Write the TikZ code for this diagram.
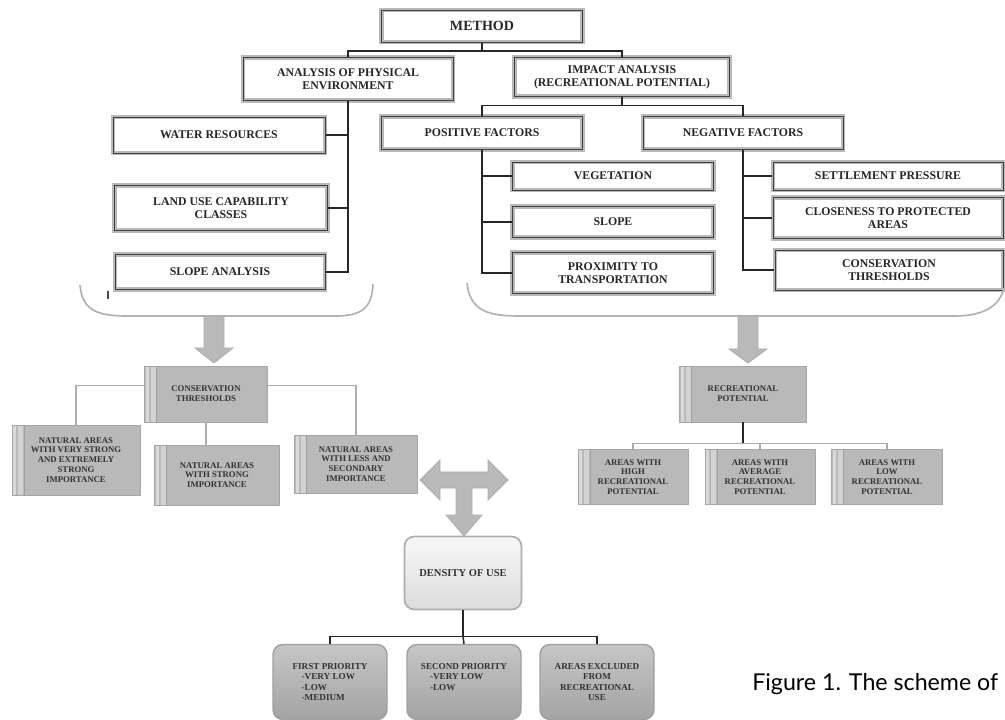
\documentclass[tikz,border=0pt]{standalone}
\usepackage{fontspec}
\setmainfont{Liberation Serif}
\newfontfamily\capfont{Lato}
\usepackage{tikz}

\newcommand{\pxu}{0.025cm}

\tikzset{
  topbox/.style={draw=gray!55, double=black!75, double distance=0.5pt, line width=1.3pt,
    fill=white, align=center, inner sep=1pt, text=black!85,
    font=\fontsize{8.4}{9.4}\selectfont\bfseries},
  greybox/.style={draw=gray!70, fill=gray!55, align=center, inner sep=1pt, text=black!80,
    font=\fontsize{6.2}{7}\selectfont\bfseries,
    path picture={
      \fill[gray!30] ([xshift=1pt]path picture bounding box.south west) rectangle ([xshift=3pt]path picture bounding box.north west);
      \fill[gray!35] ([xshift=4.5pt]path picture bounding box.south west) rectangle ([xshift=8pt]path picture bounding box.north west);
      \draw[gray!75, line width=0.5pt] ([xshift=8.5pt]path picture bounding box.south west) -- ([xshift=8.5pt]path picture bounding box.north west);
    }},
  densbox/.style={rounded corners=7pt, draw=gray!65, line width=1.2pt, top color=gray!6,
    bottom color=gray!28, align=center, text=black!80, font=\fontsize{7.5}{8.5}\selectfont\bfseries},
  prioritybox/.style={rounded corners=7pt, draw=gray!75, line width=1pt, top color=gray!45,
    bottom color=gray!72, inner sep=1pt, text=black!80,
    font=\fontsize{6.5}{7.4}\selectfont\bfseries},
  link/.style={draw=black!85, line width=1.1pt},
  greylink/.style={draw=gray!65, line width=1pt},
  fatarrow/.style={fill=gray!55, draw=gray!65, line width=0.6pt},
  bracket/.style={draw=gray!60, line width=1.2pt},
}

\begin{document}
\begin{tikzpicture}[x=\pxu, y=-\pxu]
    \useasboundingbox (0,0) rectangle (1005,720);

    % top level
    \node[topbox, minimum width=201*\pxu, minimum height=32*\pxu, font=\fontsize{10}{11}\selectfont\bfseries] (method) at (482,26) {METHOD};
    \node[topbox, minimum width=210*\pxu, minimum height=43*\pxu] (physical) at (348,79) {ANALYSIS OF PHYSICAL\\ENVIRONMENT};
    \node[topbox, minimum width=215*\pxu, minimum height=39*\pxu] (impact) at (622,77) {IMPACT ANALYSIS\\(RECREATIONAL POTENTIAL)};
    \draw[link] (method.south) -- ++(0,8) coordinate (mBar);
    \draw[link] (mBar) -| (physical.north);
    \draw[link] (mBar) -| (impact.north);

    % physical environment
    \node[topbox, minimum width=212*\pxu, minimum height=36*\pxu] (water) at (219,135) {WATER RESOURCES};
    \node[topbox, minimum width=213*\pxu, minimum height=45*\pxu] (landuse) at (221,208) {LAND USE CAPABILITY\\CLASSES};
    \node[topbox, minimum width=210*\pxu, minimum height=35*\pxu] (slopean) at (220,272) {SLOPE ANALYSIS};
    \draw[link] (physical.south) |- (water.east);
    \draw[link] (physical.south) |- (landuse.east);
    \draw[link] (physical.south) |- (slopean.east);

    % impact analysis
    \node[topbox, minimum width=201*\pxu, minimum height=33*\pxu] (positive) at (482,133) {POSITIVE FACTORS};
    \node[topbox, minimum width=200*\pxu, minimum height=33*\pxu] (negative) at (743,133) {NEGATIVE FACTORS};
    \draw[link] (impact.south) -- ++(0,8) coordinate (iBar);
    \draw[link] (iBar) -| (positive.north);
    \draw[link] (iBar) -| (negative.north);

    \node[topbox, minimum width=201*\pxu, minimum height=28*\pxu] (vegetation) at (613,176) {VEGETATION};
    \node[topbox, minimum width=201*\pxu, minimum height=31*\pxu] (slope) at (613,222) {SLOPE};
    \node[topbox, minimum width=201*\pxu, minimum height=41*\pxu] (proximity) at (613,273) {PROXIMITY TO\\TRANSPORTATION};
    \draw[link] (positive.south) |- (vegetation.west);
    \draw[link] (positive.south) |- (slope.west);
    \draw[link] (positive.south) |- (proximity.west);

    \node[topbox, minimum width=230*\pxu, minimum height=28*\pxu] (settlement) at (888,176) {SETTLEMENT PRESSURE};
    \node[topbox, minimum width=230*\pxu, minimum height=41*\pxu] (closeness) at (888,218) {CLOSENESS TO PROTECTED\\AREAS};
    \node[topbox, minimum width=228*\pxu, minimum height=40*\pxu] (consthr) at (889,270) {CONSERVATION\\THRESHOLDS};
    \draw[link] (negative.south) |- (settlement.west);
    \draw[link] (negative.south) |- (closeness.west);
    \draw[link] (negative.south) |- (consthr.west);

    % brackets and arrows
    \draw[bracket] (80,285) .. controls (82,312) and (100,316) .. (128,316) -- (335,316) .. controls (362,316) and (372,308) .. (373,284);
    \draw[bracket] (467,283) .. controls (470,312) and (490,316) .. (520,316) -- (955,316) .. controls (985,316) and (1000,305) .. (1004,288);
    \draw[black!70, line width=1pt] (108,291) -- (108,299);
    \filldraw[fatarrow] (204,316) -- (224,316) -- (224,348) -- (233,348) -- (214,363) -- (195,348) -- (204,348) -- cycle;
    \filldraw[fatarrow] (738,316) -- (758,316) -- (758,349) -- (767,349) -- (748,363) -- (729,349) -- (738,349) -- cycle;

    % conservation thresholds
    \node[greybox, minimum width=123*\pxu, minimum height=56*\pxu] (conservation) at (206,394) {CONSERVATION\\THRESHOLDS};
    \node[greybox, minimum width=128*\pxu, minimum height=70*\pxu] (natA) at (76,460) {NATURAL AREAS\\WITH VERY STRONG\\AND EXTREMELY\\STRONG\\IMPORTANCE};
    \node[greybox, minimum width=125*\pxu, minimum height=60*\pxu] (natB) at (217,475) {NATURAL AREAS\\WITH STRONG\\IMPORTANCE};
    \node[greybox, minimum width=123*\pxu, minimum height=58*\pxu] (natC) at (356,464) {NATURAL AREAS\\WITH LESS AND\\SECONDARY\\IMPORTANCE};
    \draw[greylink] ([yshift=6pt]conservation.west) -| (natA.north);
    \draw[greylink] ([yshift=6pt]conservation.east) -| (natC.north);
    \draw[greylink] (conservation.south) -- (conservation.south |- natB.north);

    % recreational potential
    \node[greybox, minimum width=127*\pxu, minimum height=56*\pxu] (recpot) at (743,394) {RECREATIONAL\\POTENTIAL};
    \node[greybox, minimum width=110*\pxu, minimum height=55*\pxu] (areaHigh) at (633,477) {AREAS WITH\\HIGH\\RECREATIONAL\\POTENTIAL};
    \node[greybox, minimum width=110*\pxu, minimum height=55*\pxu] (areaAvg) at (760,477) {AREAS WITH\\AVERAGE\\RECREATIONAL\\POTENTIAL};
    \node[greybox, minimum width=111*\pxu, minimum height=55*\pxu] (areaLow) at (887,477) {AREAS WITH\\LOW\\RECREATIONAL\\POTENTIAL};
    \draw[link] (recpot.south) -- ++(0,21) coordinate (rBar);
    \draw[greylink] (rBar) -| (areaHigh.north);
    \draw[greylink] (rBar) -| (areaAvg.north);
    \draw[greylink] (rBar) -| (areaLow.north);

    % three way arrow
    \filldraw[fatarrow] (420,480) -- (440,460) -- (440,472) -- (488,472) -- (488,460) -- (508,480)
      -- (488,500) -- (488,488) -- (472,488) -- (472,515) -- (482,515) -- (464,536) -- (446,515)
      -- (456,515) -- (456,488) -- (440,488) -- (440,500) -- cycle;

    % density of use
    \node[densbox, minimum width=117*\pxu, minimum height=73*\pxu] (density) at (463,573) {DENSITY OF USE};
    \node[prioritybox, minimum width=114*\pxu, minimum height=75*\pxu, align=left] (firstpr) at (330,682) {FIRST PRIORITY\\\quad-VERY LOW\\\quad-LOW\\\quad-MEDIUM};
    \node[prioritybox, minimum width=114*\pxu, minimum height=75*\pxu, align=left] (secondpr) at (464,682) {SECOND PRIORITY\\\quad-VERY LOW\\\quad-LOW\\\mbox{}};
    \node[prioritybox, minimum width=114*\pxu, minimum height=75*\pxu, align=center] (excluded) at (597,682) {AREAS EXCLUDED\\FROM\\RECREATIONAL\\USE};
    \draw[link] (density.south) -- ++(0,26) coordinate (dBar);
    \draw[link] (dBar) -| (firstpr.north);
    \draw[link] (dBar) -- (secondpr.north);
    \draw[link] (dBar) -| (excluded.north);

    % caption
    \node[anchor=west, inner sep=0pt, font=\capfont\fontsize{16.5}{18}\selectfont] (caption) at (752,684) {Figure 1. The scheme of};
\end{tikzpicture}
\end{document}
